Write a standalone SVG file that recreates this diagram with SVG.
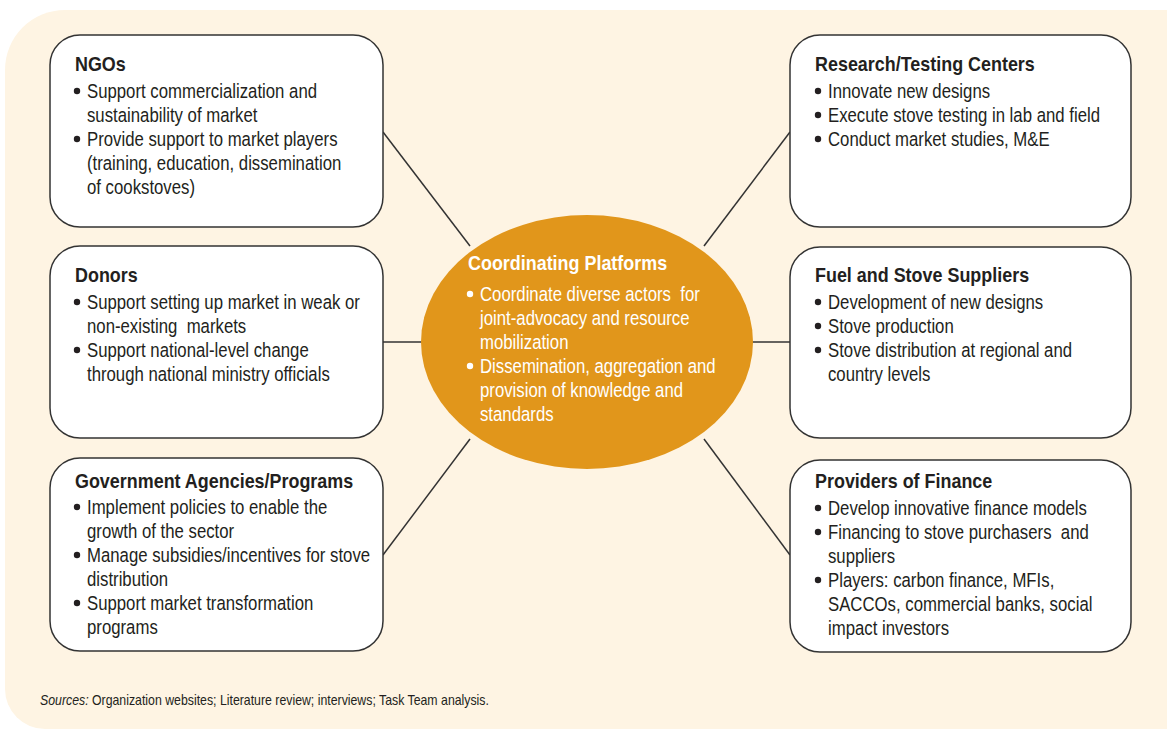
<svg xmlns="http://www.w3.org/2000/svg" width="1167" height="730" viewBox="0 0 1167 730">
<style>
.bg{fill:#FEF4E3}
.box{fill:#FFFFFF;stroke:#333333;stroke-width:1.5}
.conn{stroke:#333333;stroke-width:1.5;fill:none}
.t{font-family:"Liberation Sans",Arial,sans-serif;font-size:19.5px;fill:#231F20;white-space:pre}
.h{font-weight:bold}
.w{fill:#FFFFFF}
.src{font-family:"Liberation Sans",Arial,sans-serif;font-size:14px;fill:#231F20}
</style>
<defs>
<circle id="dot" r="3.2" fill="#231F20"/>
<circle id="wdot" r="3.2" fill="#FFFFFF"/>
</defs>
<path class="bg" d="M65,10 H1167 V729 H45 A40,40 0 0 1 5,689 V70 A60,60 0 0 1 65,10 Z"/>
<g id="connectors">
<line class="conn" x1="383" y1="132" x2="470" y2="246"/>
<line class="conn" x1="790" y1="132" x2="704" y2="246"/>
<line class="conn" x1="383" y1="555" x2="470" y2="439"/>
<line class="conn" x1="790" y1="555" x2="704" y2="439"/>
<line class="conn" x1="383" y1="342" x2="425" y2="342"/>
<line class="conn" x1="748" y1="342" x2="790" y2="342"/>
</g>
<g id="ngos">
<rect class="box" x="50" y="35" width="333" height="192" rx="30"/>
<text class="t h" x="75" y="71" transform="translate(6,0) scale(0.92,1)">NGOs</text>
<use href="#dot" x="77" y="91"/>
<use href="#dot" x="77" y="139"/>
<g transform="translate(12.18,0) scale(0.86,1)">
<text class="t" x="87" y="98">Support commercialization and</text>
<text class="t" x="87" y="122">sustainability of market</text>
<text class="t" x="87" y="146">Provide support to market players</text>
<text class="t" x="87" y="170">(training, education, dissemination</text>
<text class="t" x="87" y="194">of cookstoves)</text>
</g>
</g>
<g id="donors">
<rect class="box" x="50" y="246" width="333" height="192" rx="30"/>
<text class="t h" x="75" y="282" transform="translate(6,0) scale(0.92,1)">Donors</text>
<use href="#dot" x="77" y="302"/>
<use href="#dot" x="77" y="350"/>
<g transform="translate(12.18,0) scale(0.86,1)">
<text class="t" x="87" y="309">Support setting up market in weak or</text>
<text class="t" x="87" y="333">non-existing  markets</text>
<text class="t" x="87" y="357">Support national-level change</text>
<text class="t" x="87" y="381">through national ministry officials</text>
</g>
</g>
<g id="government">
<rect class="box" x="50" y="458" width="333" height="193" rx="30"/>
<text class="t h" x="75" y="488" transform="translate(6,0) scale(0.92,1)">Government Agencies/Programs</text>
<use href="#dot" x="77" y="507"/>
<use href="#dot" x="77" y="555"/>
<use href="#dot" x="77" y="603"/>
<g transform="translate(12.18,0) scale(0.86,1)">
<text class="t" x="87" y="514">Implement policies to enable the</text>
<text class="t" x="87" y="538">growth of the sector</text>
<text class="t" x="87" y="562">Manage subsidies/incentives for stove</text>
<text class="t" x="87" y="586">distribution</text>
<text class="t" x="87" y="610">Support market transformation</text>
<text class="t" x="87" y="634">programs</text>
</g>
</g>
<g id="research">
<rect class="box" x="790" y="35" width="341" height="192" rx="30"/>
<text class="t h" x="815" y="71" transform="translate(65.2,0) scale(0.92,1)">Research/Testing Centers</text>
<use href="#dot" x="818" y="91"/>
<use href="#dot" x="818" y="115"/>
<use href="#dot" x="818" y="139"/>
<g transform="translate(115.92,0) scale(0.86,1)">
<text class="t" x="828" y="98">Innovate new designs</text>
<text class="t" x="828" y="122">Execute stove testing in lab and field</text>
<text class="t" x="828" y="146">Conduct market studies, M&amp;E</text>
</g>
</g>
<g id="suppliers">
<rect class="box" x="790" y="247" width="341" height="191" rx="30"/>
<text class="t h" x="815" y="282" transform="translate(65.2,0) scale(0.92,1)">Fuel and Stove Suppliers</text>
<use href="#dot" x="818" y="302"/>
<use href="#dot" x="818" y="326"/>
<use href="#dot" x="818" y="350"/>
<g transform="translate(115.92,0) scale(0.86,1)">
<text class="t" x="828" y="309">Development of new designs</text>
<text class="t" x="828" y="333">Stove production</text>
<text class="t" x="828" y="357">Stove distribution at regional and</text>
<text class="t" x="828" y="381">country levels</text>
</g>
</g>
<g id="finance">
<rect class="box" x="790" y="460" width="341" height="192" rx="30"/>
<text class="t h" x="815" y="488" transform="translate(65.2,0) scale(0.92,1)">Providers of Finance</text>
<use href="#dot" x="818" y="508"/>
<use href="#dot" x="818" y="532"/>
<use href="#dot" x="818" y="580"/>
<g transform="translate(115.92,0) scale(0.86,1)">
<text class="t" x="828" y="515">Develop innovative finance models</text>
<text class="t" x="828" y="539">Financing to stove purchasers  and</text>
<text class="t" x="828" y="563">suppliers</text>
<text class="t" x="828" y="587">Players: carbon finance, MFIs,</text>
<text class="t" x="828" y="611">SACCOs, commercial banks, social</text>
<text class="t" x="828" y="635">impact investors</text>
</g>
</g>
<g id="platforms">
<ellipse cx="587" cy="342" rx="166" ry="127" fill="#E1961B"/>
<text class="t h w" x="468" y="270" transform="translate(37.44,0) scale(0.92,1)">Coordinating Platforms</text>
<use href="#wdot" x="470" y="294"/>
<use href="#wdot" x="470" y="366"/>
<g transform="translate(67.2,0) scale(0.86,1)">
<text class="t w" x="480" y="301">Coordinate diverse actors  for</text>
<text class="t w" x="480" y="325">joint-advocacy and resource</text>
<text class="t w" x="480" y="349">mobilization</text>
<text class="t w" x="480" y="373">Dissemination, aggregation and</text>
<text class="t w" x="480" y="397">provision of knowledge and</text>
<text class="t w" x="480" y="421">standards</text>
</g>
</g>
<text class="src" x="40" y="705" transform="translate(4.8,0) scale(0.88,1)"><tspan font-style="italic">Sources:</tspan> Organization websites; Literature review; interviews; Task Team analysis.</text>
</svg>
